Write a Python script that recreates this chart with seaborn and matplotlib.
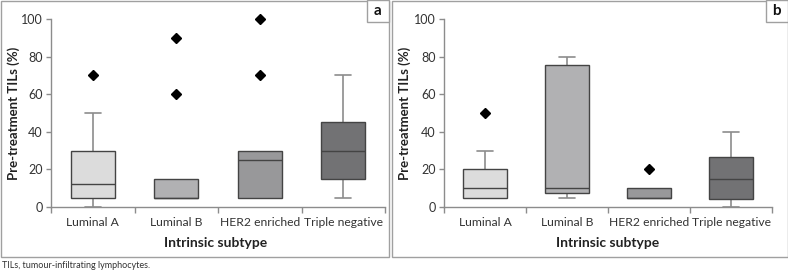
import matplotlib
matplotlib.use("Agg")
import matplotlib.pyplot as plt
from matplotlib.patches import Rectangle
import matplotlib.colors as mcolors
import seaborn as sns
import pandas as pd
import numpy as np

categories = ["Luminal A", "Luminal B", "HER2 enriched", "Triple negative"]

# Panel a: pre-treatment TILs (%) per subtype
a_luminal_a = [0, 5, 5, 10, 12.5, 20, 30, 50, 70]
a_luminal_b = [5, 5, 5, 5, 5, 10, 15, 60, 90]
a_her2 = [5, 5, 5, 20, 25, 30, 30, 70, 100]
a_triple = [5, 10, 15, 20, 30, 40, 45, 60, 70]

# Panel b
b_luminal_a = [5, 5, 5, 8, 10, 15, 20, 30, 50]
b_luminal_b = [5, 7.5, 7.5, 8, 10, 50, 75.5, 78, 80]
b_her2 = [5, 5, 5, 5, 5, 10, 10, 10, 20]
b_triple = [0, 2, 4, 10, 15, 20, 26.5, 35, 40]

yticks = [0, 20, 40, 60, 80, 100]
ylabel = "Pre-treatment TILs (%)"
xlabel = "Intrinsic subtype"
caption = "TILs, tumour-infiltrating lymphocytes."

colors = ["#dcdcdc", "#b1b1b3", "#98989a", "#727274"]
WHISK = "#8c8c8c"

sns.set_theme(style="white")
plt.rcParams["font.family"] = ["Lato", "DejaVu Sans"]

W, H = 788, 274
fig = plt.figure(figsize=(W / 100, H / 100), dpi=100)


def make_df(groups):
    rows = []
    for cat, vals in zip(categories, groups):
        for v in vals:
            rows.append({"subtype": cat, "tils": v})
    return pd.DataFrame(rows)


def px_axes(x0, x1, y_top, y_bot):
    return [x0 / W, 1 - y_bot / H, (x1 - x0) / W, (y_bot - y_top) / H]


def hide_degenerate_whiskers(ax):
    target = mcolors.to_rgba(WHISK)
    lines = [l for l in ax.lines
             if len(l.get_xdata()) == 2 and
             np.allclose(mcolors.to_rgba(l.get_color()), target)]
    whiskers = [l for l in lines
                if np.isclose(l.get_xdata()[0], l.get_xdata()[1])]
    caps = [l for l in lines
            if np.isclose(l.get_ydata()[0], l.get_ydata()[1])
            and not np.isclose(l.get_xdata()[0], l.get_xdata()[1])]
    for w in whiskers:
        y = np.asarray(w.get_ydata(), float)
        if np.isclose(y[0], y[1]):
            w.set_visible(False)
            xw = w.get_xdata()[0]
            for c in caps:
                xc = np.mean(c.get_xdata())
                if np.isclose(xc, xw) and np.isclose(c.get_ydata()[0], y[1]):
                    c.set_visible(False)


def draw_panel(rect, groups, letter, panel_box, label_box, xlabel_x, ylab_x):
    ax = fig.add_axes(rect)
    df = make_df(groups)
    sns.boxplot(
        data=df, x="subtype", y="tils", hue="subtype", order=categories,
        hue_order=categories, palette=colors, legend=False, ax=ax,
        width=0.53, whis=1.5, linewidth=1.0, linecolor="#444444",
        whiskerprops={"color": WHISK, "linewidth": 1.2, "zorder": 0.8},
        capprops={"color": WHISK, "linewidth": 1.2, "zorder": 0.8},
        medianprops={"color": "#444444", "linewidth": 1.0},
        flierprops={"marker": "D", "markerfacecolor": "black",
                    "markeredgecolor": "black", "markersize": 5.5},
        capwidths=0.19,
    )
    hide_degenerate_whiskers(ax)
    for art in ax.get_children():
        try:
            art.set_clip_on(False)
        except Exception:
            pass
    ax.set_ylim(0, 100)
    ax.set_xlim(-0.5, 3.5)
    for s in ["top", "right"]:
        ax.spines[s].set_visible(False)
    for s in ["left", "bottom"]:
        ax.spines[s].set_color(WHISK)
        ax.spines[s].set_linewidth(1.0)
        ax.spines[s].set_zorder(0.5)
    ax.set_yticks(yticks)
    ax.set_yticklabels([str(t) for t in yticks], fontsize=9, color="#333333")
    ax.tick_params(axis="y", direction="out", length=3.5, width=1.0,
                   color=WHISK, pad=2.5, left=True)
    ax.set_xticks([-0.5, 0.5, 1.5, 2.5, 3.5])
    ax.set_xticklabels([])
    ax.tick_params(axis="x", which="major", direction="out", length=4,
                   width=1.0, color=WHISK, bottom=True)
    ax.set_xticks([0, 1, 2, 3], minor=True)
    ax.set_xticklabels(categories, minor=True, fontsize=8.7, color="#333333")
    ax.tick_params(axis="x", which="minor", length=0, pad=7)
    ax.set_xlabel("")
    ax.set_ylabel(ylabel, fontsize=9.5, fontweight="bold", color="#222222")
    ax.yaxis.label.set_va("center")
    ax.yaxis.set_label_coords((ylab_x - (rect[0] * W)) / (rect[2] * W), 0.5)
    fig.text(xlabel_x / W, 1 - 243 / H, xlabel, fontsize=10,
             fontweight="bold", color="#222222", ha="center", va="center")
    # panel border
    px0, px1, py0, py1 = panel_box
    fig.patches.append(Rectangle((px0 / W, 1 - py1 / H), (px1 - px0) / W,
                                 (py1 - py0) / H, transform=fig.transFigure,
                                 fill=False, edgecolor="#a0a0a0",
                                 linewidth=1.0))
    lx0, lx1, ly0, ly1 = label_box
    fig.patches.append(Rectangle((lx0 / W, 1 - ly1 / H), (lx1 - lx0) / W,
                                 (ly1 - ly0) / H, transform=fig.transFigure,
                                 fill=True, facecolor="white",
                                 edgecolor="#a0a0a0", linewidth=1.0))
    fig.text((lx0 + lx1) / 2 / W, 1 - (ly0 + ly1) / 2 / H, letter,
             fontsize=11, fontweight="bold", color="#111111",
             ha="center", va="center")
    return ax


draw_panel(px_axes(51, 385, 19, 207),
           [a_luminal_a, a_luminal_b, a_her2, a_triple], "a",
           (0.5, 389, 0.5, 257), (367, 389, 0.5, 22), 216, 14)
draw_panel(px_axes(444, 772, 19, 207),
           [b_luminal_a, b_luminal_b, b_her2, b_triple], "b",
           (392, 787.5, 0.5, 257), (766, 787.5, 0.5, 22), 608, 405)

fig.text(2 / W, 1 - 266 / H, caption, fontsize=6.5, color="#333333",
         ha="left", va="center")

fig.savefig("out.png", dpi=100)
